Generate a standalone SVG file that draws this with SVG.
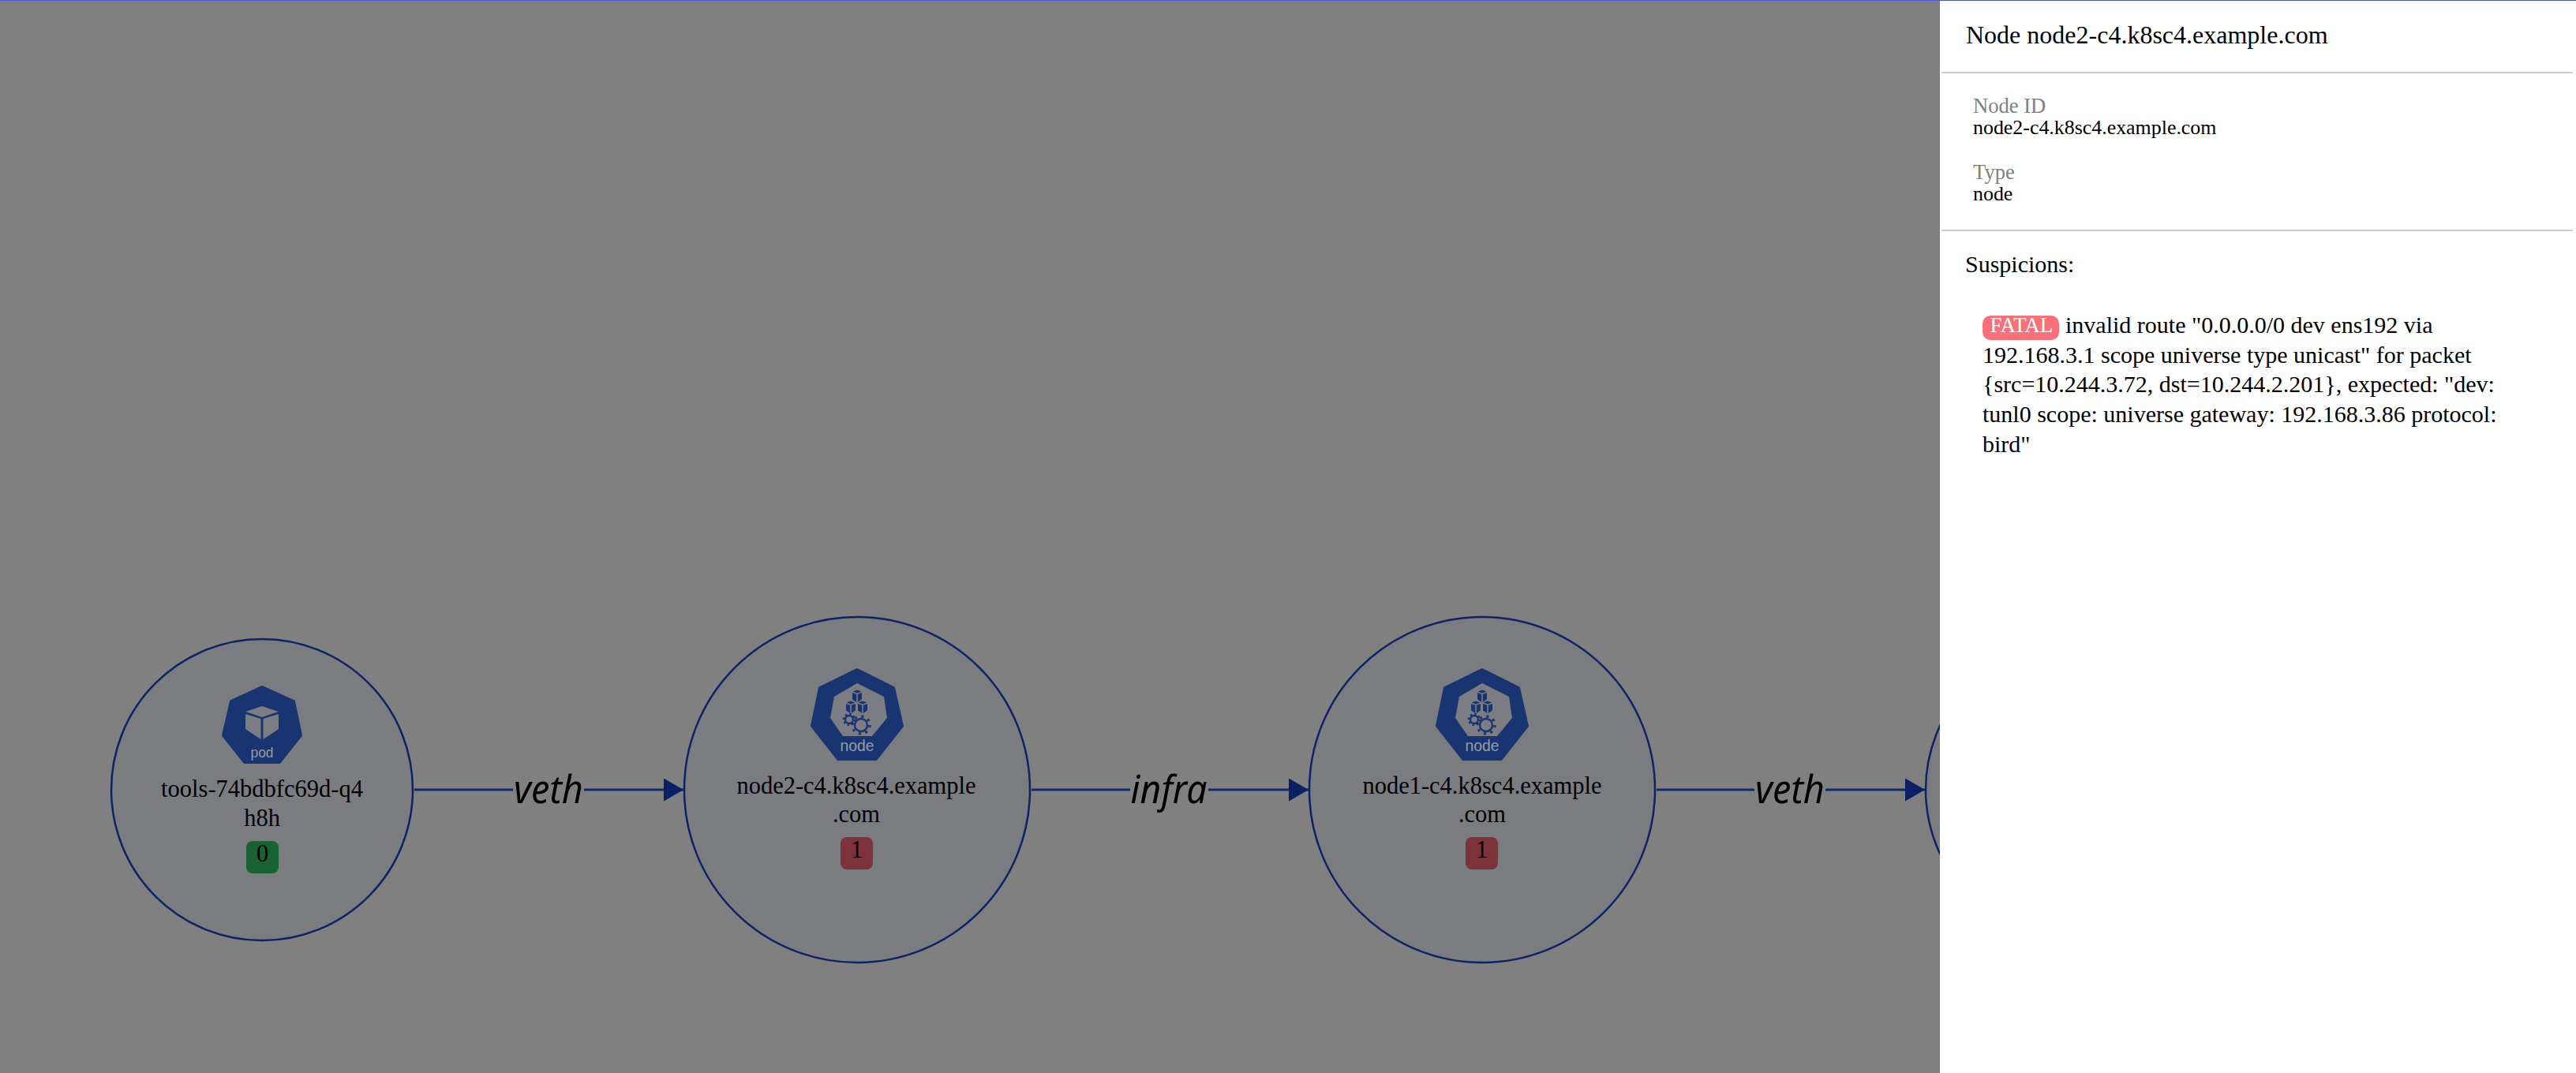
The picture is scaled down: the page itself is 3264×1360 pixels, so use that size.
<svg xmlns="http://www.w3.org/2000/svg" xmlns:xlink="http://www.w3.org/1999/xlink" width="3264" height="1360" viewBox="0 0 3264 1360">
<style>
.serif{font-family:"Liberation Serif","Times New Roman",serif}
.nc{fill:#7b7c80;stroke:#0c2368;stroke-width:2.5}
.nl{font-size:30.5px;fill:#000;text-anchor:middle}
.bt{font-size:30.5px;fill:#000;text-anchor:middle}
.hex{fill:#193571;stroke:#193571;stroke-width:4;stroke-linejoin:round}
.in{fill:#7c7d82}
.ic{font-family:"Liberation Sans",Arial,sans-serif;fill:#9a9ba0;text-anchor:middle}
.edge{stroke:#0f2a6c;stroke-width:3;fill:none;marker-end:url(#arr)}
.el{font-family:"Noto Sans","Open Sans",sans-serif;font-style:italic;font-size:50px;fill:#000;text-anchor:middle}
.ph{font-size:32px;fill:#000}
.ps{font-size:25.9px;fill:#000}
.pg{font-size:26.6px;fill:#808080}
.pt{font-size:30px;fill:#000}
.sep{fill:#ccc}
</style>
<defs>
<marker id="arr" markerUnits="userSpaceOnUse" markerWidth="26" markerHeight="30" refX="25" refY="15" orient="auto"><path d="M0,0.5 L25,15 L0,29.500 z" fill="#0b1f63"/></marker>
<g id="cube"><path d="M-5.500,-6.500 L0,-8.500 L5.500,-6.500 L0,-4.500 z M-6,-5 L-0.800,-3.200 L-0.800,7 L-6,3.500 z M6,-5 L0.800,-3.200 L0.800,7 L6,3.500 z" fill="#193571"/></g>
<g id="nodeglyph">
<path class="hex" d="M0,-71 L46,-48 L57,0 L24,42 L-24,42 L-57,0 L-47,-48 z"/>
<path class="in" d="M0,-54 L34,-37 L38,-10 L19,13 L-18,13 L-34,-10 L-29,-37 z"/>
<use xlink:href="#cube" href="#cube" x="0" y="-37"/>
<use xlink:href="#cube" href="#cube" x="-8" y="-23"/>
<use xlink:href="#cube" href="#cube" x="7" y="-23"/>
<circle cx="-10" cy="-8" r="5" fill="none" stroke="#193571" stroke-width="2.400"/>
<circle cx="-10" cy="-8" r="7" fill="none" stroke="#193571" stroke-width="2.600" stroke-dasharray="2.400 3.100"/>
<circle cx="5" cy="-1" r="8" fill="none" stroke="#193571" stroke-width="2.400"/>
<circle cx="5" cy="-1" r="11" fill="none" stroke="#193571" stroke-width="3.400" stroke-dasharray="3 5.640"/>
</g>
</defs>
<rect id="backdrop" width="3264" height="1360" fill="#808080"/>
<g id="connectors">
<line class="edge" x1="525" y1="1001" x2="866" y2="1001"/>
<line class="edge" x1="1307" y1="1001" x2="1658" y2="1001"/>
<line class="edge" x1="2099" y1="1001" x2="2439" y2="1001"/>
<rect x="650" y="975" width="90" height="52" fill="#808080"/>
<text class="el" x="695" y="1018" textLength="88" lengthAdjust="spacingAndGlyphs">veth</text>
<rect x="1432" y="975" width="99" height="52" fill="#808080"/>
<text class="el" x="1481" y="1018" textLength="97" lengthAdjust="spacingAndGlyphs">infra</text>
<rect x="2223" y="975" width="90" height="52" fill="#808080"/>
<text class="el" x="2268" y="1018" textLength="88" lengthAdjust="spacingAndGlyphs">veth</text>
</g>
<g id="node-tools">
<circle class="nc" cx="332" cy="1001" r="191"/>
<path class="hex" d="M332,871 L372,889 L381,932 L354,966 L310,966 L283,932 L293,889 z"/>
<path class="in" d="M332,895 L353,902 L332,909 L311,902 z M311,905 L330.500,911 L330.500,937 L311,924 z M353,905 L333.500,911 L333.500,937 L353,924 z"/>
<text class="ic" x="332" y="960" font-size="19" textLength="29" lengthAdjust="spacingAndGlyphs">pod</text>
<text class="serif nl" x="332" y="1010">tools-74bdbfc69d-q4</text>
<text class="serif nl" x="332" y="1047">h8h</text>
<rect x="312" y="1066" width="41" height="41" rx="8" fill="#196234"/>
<text class="serif bt" x="332.500" y="1092">0</text>
</g>
<g id="node-node2">
<circle class="nc" cx="1086" cy="1001" r="219"/>
<use xlink:href="#nodeglyph" href="#nodeglyph" x="1086" y="920"/>
<text class="ic" x="1086" y="952" font-size="21" textLength="43" lengthAdjust="spacingAndGlyphs">node</text>
<text class="serif nl" x="1085" y="1006">node2-c4.k8sc4.example</text>
<text class="serif nl" x="1085" y="1042">.com</text>
<rect x="1065" y="1061" width="41" height="41" rx="8" fill="#7b3239"/>
<text class="serif bt" x="1085.500" y="1087">1</text>
</g>
<g id="node-node1">
<circle class="nc" cx="1878" cy="1001" r="219"/>
<use xlink:href="#nodeglyph" href="#nodeglyph" x="1878" y="920"/>
<text class="ic" x="1878" y="952" font-size="21" textLength="43" lengthAdjust="spacingAndGlyphs">node</text>
<text class="serif nl" x="1878" y="1006">node1-c4.k8sc4.example</text>
<text class="serif nl" x="1878" y="1042">.com</text>
<rect x="1857" y="1061" width="41" height="41" rx="8" fill="#7b3239"/>
<text class="serif bt" x="1877.500" y="1087">1</text>
</g>
<g id="node-next">
<circle class="nc" cx="2631" cy="1001" r="191"/>
</g>
<g id="panel">
<rect x="2458" y="0" width="806" height="1360" fill="#fff"/>
<rect x="2460" y="91" width="800" height="2" class="sep"/>
<rect x="2460" y="291" width="800" height="2" class="sep"/>
<text class="serif ph" x="2491" y="55">Node node2-c4.k8sc4.example.com</text>
<text class="serif pg" x="2500" y="143">Node ID</text>
<text class="serif ps" x="2500" y="170">node2-c4.k8sc4.example.com</text>
<text class="serif pg" x="2500" y="227">Type</text>
<text class="serif ps" x="2500" y="254">node</text>
<text class="serif pt" x="2490" y="345">Suspicions:</text>
<rect x="2512" y="400" width="97" height="31" rx="10" fill="#f96f7a"/>
<text class="serif pt" x="2521.500" y="421" style="fill:#fff;font-size:27px">FATAL</text>
<text class="serif pt" x="2617" y="422">invalid route "0.0.0.0/0 dev ens192 via</text>
<text class="serif pt" x="2512" y="460">192.168.3.1 scope universe type unicast" for packet</text>
<text class="serif pt" x="2512" y="497">{src=10.244.3.72, dst=10.244.2.201}, expected: "dev:</text>
<text class="serif pt" x="2512" y="535">tunl0 scope: universe gateway: 192.168.3.86 protocol:</text>
<text class="serif pt" x="2512" y="573">bird"</text>
</g>
<rect id="topline" width="3264" height="1" fill="#4b55d6"/>
</svg>
